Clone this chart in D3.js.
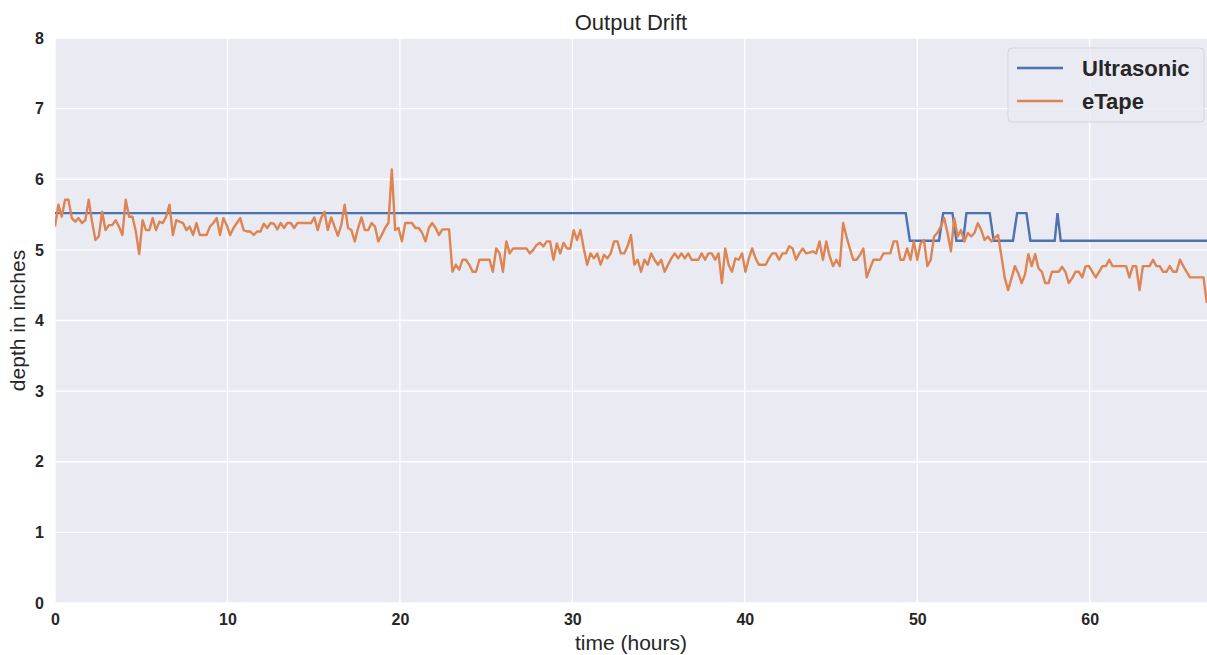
<!DOCTYPE html>
<html>
<head>
<meta charset="utf-8">
<script src="https://cdn.jsdelivr.net/npm/d3@7"></script>
<style>
  body { margin: 0; background: #fff; }
  svg { display: block; font-family: "Liberation Sans", Arial, sans-serif; }
</style>
</head>
<body>
<div id="chart"></div>
<script>
// eTape readings, one every STEP hours
const STEP = 0.1953;
const eTape = [
  5.33, 5.64, 5.47, 5.71, 5.71, 5.45, 5.40, 5.45, 5.38, 5.42, 5.71, 5.40, 5.14, 5.19, 5.54, 5.28,
  5.35, 5.35, 5.42, 5.33, 5.21, 5.71, 5.47, 5.47, 5.26, 4.94, 5.42, 5.28, 5.28, 5.45, 5.28, 5.40,
  5.38, 5.47, 5.64, 5.21, 5.42, 5.40, 5.38, 5.28, 5.33, 5.21, 5.38, 5.21, 5.21, 5.21, 5.33, 5.38,
  5.45, 5.21, 5.45, 5.35, 5.21, 5.31, 5.38, 5.45,
  5.28, 5.26, 5.26, 5.21, 5.26, 5.26, 5.37, 5.31, 5.38, 5.37, 5.29, 5.38, 5.31, 5.38, 5.38, 5.31,
  5.38, 5.38, 5.38, 5.38, 5.38, 5.46, 5.28, 5.45, 5.54, 5.28, 5.46, 5.33, 5.20, 5.35, 5.64, 5.31,
  5.28, 5.12, 5.31, 5.46, 5.28, 5.28, 5.38, 5.33, 5.12, 5.21, 5.31, 5.38, 6.14, 5.28, 5.31, 5.12,
  5.38, 5.38, 5.38, 5.31, 5.31, 5.24, 5.12, 5.31,
  5.38, 5.31, 5.21, 5.29, 5.29, 5.29, 4.69, 4.79, 4.72, 4.86, 4.86, 4.79, 4.69, 4.69, 4.86, 4.86,
  4.86, 4.86, 4.69, 5.02, 4.95, 4.69, 5.12, 4.95, 5.02, 5.02, 5.02, 5.02, 5.02, 4.95, 5.00, 5.07,
  5.10, 5.05, 5.12, 5.12, 4.86, 5.09, 4.95, 5.10, 5.02, 5.02, 5.28, 5.14, 5.28, 5.02, 4.79, 4.95,
  4.88, 4.95, 4.79, 4.93, 4.88, 4.95, 5.12,
  5.12, 4.95, 4.95, 5.05, 5.21, 4.79, 4.86, 4.69, 4.86, 4.79, 4.95, 4.86, 4.79, 4.86, 4.69, 4.79,
  4.88, 4.95, 4.88, 4.95, 4.88, 4.95, 4.86, 4.86, 4.86, 4.95, 4.86, 4.95, 4.95, 4.86, 4.95, 4.53,
  5.02, 4.79, 4.69, 4.88, 4.86, 4.95, 4.69, 4.88, 5.02, 4.88, 4.79, 4.79, 4.79, 4.88, 4.95, 4.95,
  4.86, 4.95, 4.95, 5.05, 5.02, 4.86, 4.95, 5.02, 4.95,
  4.96, 4.98, 4.95, 5.12, 4.86, 5.12, 4.91, 4.77, 4.86, 4.77, 5.38, 5.19, 5.02, 4.86, 4.86, 4.93,
  5.02, 4.61, 4.74, 4.86, 4.86, 4.86, 4.95, 4.95, 4.95, 5.12, 5.12, 4.86, 4.86, 5.02, 4.86, 5.12,
  4.86, 5.09, 5.14, 4.77, 4.86, 5.19, 5.24, 5.33, 5.45, 5.24, 4.98, 5.45, 5.19, 5.28, 5.12, 5.24,
  5.19, 5.24, 5.38, 5.28, 5.14, 5.19, 5.12, 5.17,
  5.21, 4.91, 4.60, 4.43, 4.60, 4.77, 4.67, 4.53, 4.65, 4.94, 4.77, 4.94, 4.74, 4.69, 4.53, 4.53,
  4.69, 4.69, 4.69, 4.76, 4.69, 4.53, 4.60, 4.69, 4.69, 4.61, 4.77, 4.77, 4.69, 4.61, 4.69, 4.77,
  4.77, 4.86, 4.77, 4.77, 4.77, 4.77, 4.77, 4.61, 4.77, 4.77, 4.43, 4.77, 4.77, 4.77, 4.86, 4.77,
  4.77, 4.69, 4.69, 4.77, 4.69, 4.69, 4.86, 4.77, 4.69, 4.61, 4.61, 4.61, 4.61, 4.61, 4.25
];

// Ultrasonic readings only change at a few points
const ultraHours = [0, 49.33, 49.57, 51.26, 51.50, 52.04, 52.27, 52.66, 52.85, 54.20, 54.43,
  55.55, 55.79, 56.33, 56.56, 57.97, 58.13, 58.32, 66.8];
const ultraDepth = [5.52, 5.52, 5.13, 5.13, 5.52, 5.52, 5.13, 5.13, 5.52, 5.52, 5.13,
  5.13, 5.52, 5.52, 5.13, 5.13, 5.52, 5.13, 5.13];

const xTicks = [0, 10, 20, 30, 40, 50, 60];
const yTicks = [0, 1, 2, 3, 4, 5, 6, 7, 8];
const seriesNames = ['Ultrasonic', 'eTape'];
const colors = ['#4C72B0', '#DD8452'];

const width = 1207, height = 655;
const margin = {top: 38, right: 0, bottom: 52, left: 55};
const plotWidth = width - margin.left - margin.right;
const plotHeight = height - margin.top - margin.bottom;

const svg = d3.select('#chart').append('svg')
    .attr('width', width)
    .attr('height', height);

const g = svg.append('g')
    .attr('transform', `translate(${margin.left},${margin.top})`);

const xScale = d3.scaleLinear().domain([0, 66.8]).range([0, plotWidth]);
const yScale = d3.scaleLinear().domain([0, 8]).range([plotHeight, 0]);

g.append('rect')
    .attr('width', plotWidth)
    .attr('height', plotHeight)
    .attr('fill', '#EAEAF2');

g.append('clipPath').attr('id', 'clip')
    .append('rect').attr('width', plotWidth).attr('height', plotHeight);

// grid
g.append('g').selectAll('line').data(xTicks).enter().append('line')
    .attr('x1', d => xScale(d)).attr('x2', d => xScale(d))
    .attr('y1', 0).attr('y2', plotHeight)
    .attr('stroke', '#fff').attr('stroke-width', 1.3);
g.append('g').selectAll('line').data(yTicks).enter().append('line')
    .attr('x1', 0).attr('x2', plotWidth)
    .attr('y1', d => yScale(d)).attr('y2', d => yScale(d))
    .attr('stroke', '#fff').attr('stroke-width', 1.3);

// axes
const xAxis = g.append('g')
    .attr('transform', `translate(0,${plotHeight})`)
    .call(d3.axisBottom(xScale).tickValues(xTicks).tickSize(0).tickPadding(11));
const yAxis = g.append('g')
    .call(d3.axisLeft(yScale).tickValues(yTicks).tickSize(0).tickPadding(11));
[xAxis, yAxis].forEach(a => {
    a.select('.domain').remove();
    a.selectAll('text')
        .attr('font-family', '"Liberation Sans", Arial, sans-serif')
        .attr('font-size', 16)
        .attr('font-weight', 'bold')
        .attr('fill', '#262626');
});

// lines
const line = d3.line().x(d => xScale(d[0])).y(d => yScale(d[1]));
const ultraData = ultraHours.map((h, i) => [h, ultraDepth[i]]);
const eTapeData = eTape.map((v, i) => [i * STEP, v]);

const lines = g.append('g').attr('clip-path', 'url(#clip)');
lines.append('path')
    .datum(ultraData)
    .attr('fill', 'none')
    .attr('stroke', colors[0])
    .attr('stroke-width', 2.4)
    .attr('d', line);
lines.append('path')
    .datum(eTapeData)
    .attr('fill', 'none')
    .attr('stroke', colors[1])
    .attr('stroke-width', 2.4)
    .attr('stroke-linejoin', 'round')
    .attr('d', line);

// titles
svg.append('text')
    .attr('x', margin.left + plotWidth / 2)
    .attr('y', 30)
    .attr('text-anchor', 'middle')
    .attr('font-size', 22)
    .attr('fill', '#262626')
    .text('Output Drift');
svg.append('text')
    .attr('x', margin.left + plotWidth / 2)
    .attr('y', 650)
    .attr('text-anchor', 'middle')
    .attr('font-size', 21)
    .attr('fill', '#262626')
    .text('time (hours)');
svg.append('text')
    .attr('transform', `translate(25,${margin.top + plotHeight / 2}) rotate(-90)`)
    .attr('text-anchor', 'middle')
    .attr('font-size', 21)
    .attr('fill', '#262626')
    .text('depth in inches');

// legend
const legend = svg.append('g').attr('transform', 'translate(1008,48)');
legend.append('rect')
    .attr('width', 196).attr('height', 74).attr('rx', 4)
    .attr('fill', '#EAEAF2').attr('fill-opacity', 0.8)
    .attr('stroke', '#d5d5dd');
seriesNames.forEach((name, i) => {
    legend.append('line')
        .attr('x1', 9).attr('x2', 55)
        .attr('y1', 20 + i * 33).attr('y2', 20 + i * 33)
        .attr('stroke', colors[i]).attr('stroke-width', 2.4);
    legend.append('text')
        .attr('x', 74).attr('y', 20 + i * 33)
        .attr('dy', '0.35em')
        .attr('font-size', 22)
        .attr('font-weight', 'bold')
        .attr('fill', '#262626')
        .text(name);
});
</script>
</body>
</html>
